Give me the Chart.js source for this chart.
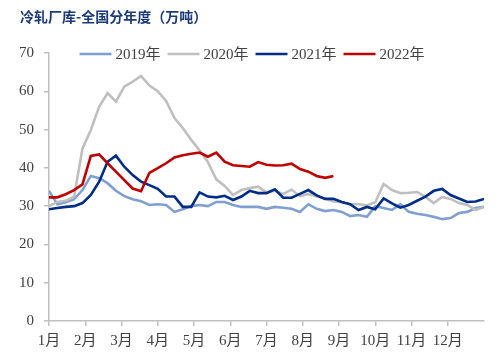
<!DOCTYPE html>
<html>
<head>
<meta charset="utf-8">
<script src="https://cdn.jsdelivr.net/npm/chart.js@4/dist/chart.umd.min.js"></script>
<style>
  body { margin: 0; background: #fff; }
  canvas { display: block; }
</style>
</head>
<body>
<canvas id="myChart" width="500" height="358"></canvas>
<script>
// chart data (weekly readings, week 0 = start of January)
const title = '冷轧厂库-全国分年度（万吨）'
const monthLabels = ['1月', '2月', '3月', '4月', '5月', '6月', '7月', '8月', '9月', '10月', '11月', '12月']
const seriesNames = ['2019年', '2020年', '2021年', '2022年']
const yTicks = [0, 10, 20, 30, 40, 50, 60, 70]

const data2019 = [34, 30.5, 31, 31.8, 34.2, 37.9, 37.3, 36, 34, 32.6, 31.8, 31.3, 30.3, 30.5, 30.3, 28.5,
  29.2, 30, 30.3, 30, 31.1, 31.1, 30.3, 29.8, 29.8, 29.8, 29.3, 29.8, 29.6, 29.3, 28.5, 30.5, 29.3, 28.7,
  29, 28.5, 27.4, 27.7, 27.2, 30, 29.5, 29, 30.5, 28.5, 28, 27.7, 27.2, 26.6, 26.9, 28.2, 28.5, 29.5, 29.8]
const data2020 = [30, 31.1, 31.4, 32.5, 45, 49.9, 56, 59.5, 57.3, 61.2, 62.5, 64, 61.5, 60, 57.5, 53,
  50.4, 47.3, 44.6, 41.5, 37, 35.3, 32.9, 34.2, 34.7, 35.1, 33.6, 34, 33.2, 34.3, 32.6, 33.2, 32.5, 32,
  31.2, 31, 30.5, 30.5, 30.2, 31, 35.8, 34.2, 33.4, 33.5, 33.7, 32.4, 30.8, 32.4, 31.9, 30.8, 30.3, 29, 29.8]
const data2021 = [29.2, 29.5, 29.8, 30, 30.8, 32.9, 36.4, 41.6, 43.2, 40.3, 38.1, 36.4, 35.5, 34.5, 32.5, 32.5,
  29.8, 29.8, 33.6, 32.5, 32.3, 32.7, 31.6, 32.5, 34, 33.4, 33.4, 34.4, 32.2, 32.2, 33.2, 34.2, 32.8, 31.9,
  31.9, 31.1, 30.5, 29, 29.8, 29.2, 32, 30.7, 29.6, 30.3, 31.4, 32.5, 34, 34.5, 32.9, 32, 31.1, 31.2, 31.9]
const data2022 = [32.3, 32.3, 33.1, 34.2, 35.7, 43.1, 43.5, 41.2, 39, 36.8, 34.6, 33.9, 38.7, 39.9, 41.2, 42.7,
  43.3, 43.7, 44, 42.9, 44, 41.6, 40.7, 40.5, 40.3, 41.5, 40.8, 40.6, 40.7, 41.1, 39.7, 39, 37.9, 37.4, 37.9]

const colors = ['#7f9fd3', '#bfbfbf', '#002d86', '#c00000']
const allData = [data2019, data2020, data2021, data2022]

const serif = "'Liberation Serif', 'Times New Roman', 'Noto Sans CJK SC', serif"
const textColor = '#404040'
const axisColor = '#bfbfbf'

// week index -> position in months
const toPoints = arr => arr.map((v, i) => ({ x: i * 12 / 52, y: v }))

const datasets = seriesNames.map((name, k) => ({
  label: name,
  data: toPoints(allData[k]),
  borderColor: colors[k],
  backgroundColor: colors[k],
  borderWidth: 2.6,
  pointRadius: 0,
  tension: 0,
  order: k == 3 ? 0 : 4 - k
}))

// title + legend drawn by hand so they sit where the picture has them
const decorations = {
  id: 'decorations',
  afterDraw(chart) {
    const c = chart.ctx
    c.save()
    c.fillStyle = '#1b3a7a'
    c.font = "bold 14px 'Noto Sans CJK SC', sans-serif"
    c.textBaseline = 'middle'
    c.textAlign = 'left'
    c.fillText(title, 20, 17)

    c.font = '15px ' + serif
    const lineLen = 32, gap = 4, itemGap = 7
    const widths = seriesNames.map(n => c.measureText(n).width)
    let total = 0
    widths.forEach(w => total += lineLen + gap + w)
    total += itemGap * (seriesNames.length - 1)
    let x = 252 - total / 2
    const y = 54
    seriesNames.forEach((n, k) => {
      c.strokeStyle = colors[k]
      c.lineWidth = 2.6
      c.beginPath()
      c.moveTo(x, y)
      c.lineTo(x + lineLen, y)
      c.stroke()
      c.fillStyle = textColor
      c.fillText(n, x + lineLen + gap, y + 1)
      x += lineLen + gap + widths[k] + itemGap
    })
    c.restore()
  }
}

const ctx = document.getElementById('myChart')

new Chart(ctx, {
  type: 'line',
  data: { datasets },
  plugins: [decorations],
  options: {
    responsive: false,
    animation: false,
    layout: { padding: { top: 53, right: 16, left: 0, bottom: 0 } },
    plugins: {
      legend: { display: false },
      tooltip: { enabled: false }
    },
    scales: {
      x: {
        type: 'linear',
        min: 0,
        max: 12,
        afterBuildTicks: s => { s.ticks = monthLabels.map((m, i) => ({ value: i })) },
        afterFit: s => { s.height = 37 },
        ticks: {
          callback: v => monthLabels[v] || '',
          color: textColor,
          font: { family: serif, size: 15 },
          padding: 6,
          maxRotation: 0,
          autoSkip: false
        },
        grid: { drawOnChartArea: false, tickLength: 5, color: axisColor, lineWidth: 1.5 },
        border: { color: axisColor, width: 1.5 }
      },
      y: {
        min: 0,
        max: 70,
        afterBuildTicks: s => { s.ticks = yTicks.map(v => ({ value: v })) },
        afterFit: s => { s.width = 49 },
        ticks: {
          color: textColor,
          font: { family: serif, size: 15 },
          padding: 10
        },
        grid: { drawOnChartArea: false, tickLength: 5, color: axisColor, lineWidth: 1.5 },
        border: { color: axisColor, width: 1.5 }
      }
    }
  }
});
</script>
</body>
</html>
